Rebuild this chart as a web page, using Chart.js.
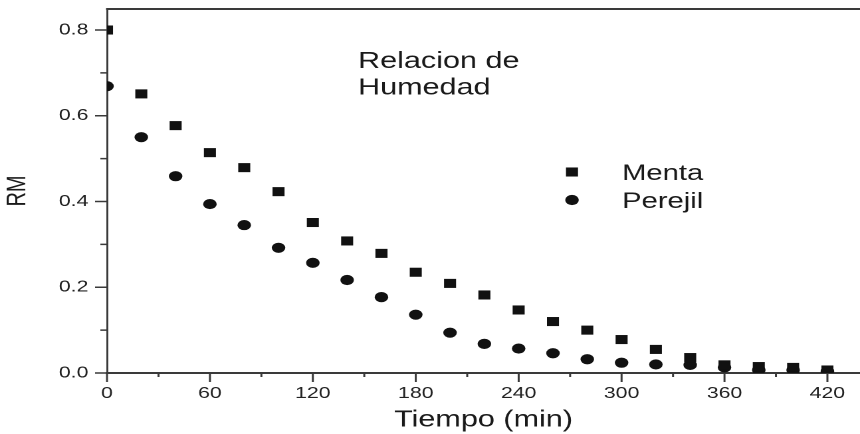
<!DOCTYPE html>
<html>
<head>
<meta charset="utf-8">
<script src="https://cdn.jsdelivr.net/npm/chart.js@4"></script>
<style>
  html, body { margin: 0; padding: 0; background: #fff; overflow: hidden; }
  /* la figura original esta estirada en horizontal */
  #wrap { width: 647px; height: 434px; transform: scaleX(1.3292); transform-origin: 0 0; }
</style>
</head>
<body>
<div id="wrap"><canvas id="grafico" width="647" height="434"></canvas></div>
<script>
// datos
const tiempo = [0, 20, 40, 60, 80, 100, 120, 140, 160, 180, 200, 220, 240, 260, 280, 300, 320, 340, 360, 380, 400, 420];
const menta = [0.80, 0.651, 0.577, 0.514, 0.479, 0.423, 0.351, 0.308, 0.279, 0.235, 0.209, 0.182, 0.147, 0.120, 0.100, 0.078, 0.055, 0.036, 0.019, 0.015, 0.013, 0.007];
const perejil = [0.669, 0.55, 0.459, 0.394, 0.345, 0.292, 0.257, 0.217, 0.177, 0.136, 0.094, 0.068, 0.057, 0.046, 0.032, 0.024, 0.020, 0.019, 0.013, 0.007, 0.007, 0.004];
const ticksX = [0, 60, 120, 180, 240, 300, 360, 420];
const ticksY = [0, 0.2, 0.4, 0.6, 0.8];
const series = ['Menta', 'Perejil'];
const anotacion = ['Relacion de', 'Humedad'];

const S = 1.3292;
const fuente = '"Liberation Sans", Arial, sans-serif';
const negro = '#111';

function puntos(arr) {
    var res = [];
    for (var i = 0; i < tiempo.length; i++) {
        res.push({ x: tiempo[i], y: arr[i] });
    }
    return res;
}

// sin relleno automatico alrededor de los ejes
function sinRelleno(scale) {
    scale.paddingTop = 0;
    scale.paddingBottom = 0;
    scale.paddingLeft = 0;
    scale.paddingRight = 0;
}

const estilos = [
    { pointStyle: 'rect', radius: 6.4 },
    { pointStyle: 'circle', radius: 5.1 }
];

const decoracion = {
    id: 'decoracion',
    afterDraw(chart) {
        const ctx = chart.ctx;
        const a = chart.chartArea;
        const sx = chart.scales.x;
        const sy = chart.scales.y;
        ctx.save();
        ctx.strokeStyle = '#3a3a3a';

        // borde superior
        ctx.lineWidth = 2;
        ctx.beginPath();
        ctx.moveTo(a.left - 0.75, a.top);
        ctx.lineTo(a.right, a.top);
        ctx.stroke();

        // marcas del eje y
        ctx.lineWidth = 1.5;
        ctx.beginPath();
        for (var i = 0; i < ticksY.length; i++) {
            var py = sy.getPixelForValue(ticksY[i]);
            ctx.moveTo(a.left - 9, py);
            ctx.lineTo(a.left, py);
            if (i < ticksY.length - 1) {
                var pm = sy.getPixelForValue((ticksY[i] + ticksY[i + 1]) / 2);
                ctx.moveTo(a.left - 5, pm);
                ctx.lineTo(a.left, pm);
            }
        }
        ctx.stroke();

        // marcas del eje x
        ctx.beginPath();
        for (var j = 0; j < ticksX.length; j++) {
            var px = sx.getPixelForValue(ticksX[j]);
            ctx.moveTo(px, a.bottom);
            ctx.lineTo(px, a.bottom + 9);
            if (j < ticksX.length - 1) {
                var qm = sx.getPixelForValue((ticksX[j] + ticksX[j + 1]) / 2);
                ctx.moveTo(qm, a.bottom);
                ctx.lineTo(qm, a.bottom + 4);
            }
        }
        ctx.stroke();

        // texto "Relacion de Humedad"
        ctx.fillStyle = '#1a1a1a';
        ctx.textBaseline = 'alphabetic';
        ctx.textAlign = 'left';
        ctx.font = '23px ' + fuente;
        ctx.fillText(anotacion[0], 358 / S, 68);
        ctx.fillText(anotacion[1], 358 / S, 94.5);

        // leyenda
        ctx.font = '22px ' + fuente;
        for (var k = 0; k < series.length; k++) {
            var ly = 172 + 28 * k;
            ctx.fillStyle = negro;
            Chart.helpers.drawPoint(ctx, {
                pointStyle: estilos[k].pointStyle,
                radius: estilos[k].radius,
                rotation: 0,
                borderWidth: 0
            }, 572 / S, ly);
            ctx.fillStyle = '#1a1a1a';
            ctx.fillText(series[k], 622 / S, ly + 8);
        }
        ctx.restore();
    }
};

const ctx = document.getElementById('grafico').getContext('2d');
const grafico = new Chart(ctx, {
    type: 'scatter',
    data: {
        datasets: [{
            label: series[0],
            data: puntos(menta),
            pointStyle: estilos[0].pointStyle,
            pointRadius: estilos[0].radius,
            backgroundColor: negro,
            borderWidth: 0
        }, {
            label: series[1],
            data: puntos(perejil),
            pointStyle: estilos[1].pointStyle,
            pointRadius: estilos[1].radius,
            backgroundColor: negro,
            borderWidth: 0
        }]
    },
    options: {
        responsive: false,
        animation: false,
        devicePixelRatio: 2,
        layout: { autoPadding: false, padding: { top: 9, right: 0, bottom: 0, left: 0 } },
        plugins: {
            legend: { display: false },
            tooltip: { enabled: false }
        },
        scales: {
            x: {
                type: 'linear',
                min: 0,
                max: 439,
                afterBuildTicks: function (scale) {
                    scale.ticks = ticksX.map(function (v) { return { value: v }; });
                },
                afterFit: function (scale) { scale.height = 61; sinRelleno(scale); },
                grid: { display: false, drawTicks: false },
                border: { display: true, color: '#3a3a3a', width: 2 },
                ticks: {
                    font: { size: 16, family: fuente },
                    color: '#222',
                    padding: 11,
                    maxRotation: 0,
                    callback: function (v) { return String(v); }
                },
                title: {
                    display: true,
                    text: 'Tiempo (min)',
                    font: { size: 23, family: fuente },
                    color: '#1a1a1a',
                    padding: { top: 0, bottom: 0 }
                }
            },
            y: {
                type: 'linear',
                min: 0,
                max: 0.849,
                afterBuildTicks: function (scale) {
                    scale.ticks = ticksY.map(function (v) { return { value: v }; });
                },
                afterFit: function (scale) { scale.width = 80.5; sinRelleno(scale); },
                grid: { display: false, drawTicks: false },
                border: { display: true, color: '#3a3a3a', width: 1.5 },
                ticks: {
                    font: { size: 16, family: fuente },
                    color: '#222',
                    padding: 14,
                    callback: function (v) { return v.toFixed(1); }
                },
                title: {
                    display: true,
                    text: 'RM',
                    font: { size: 20, family: fuente },
                    color: '#1a1a1a',
                    padding: { top: 1.5, bottom: 0 }
                }
            }
        }
    },
    plugins: [decoracion]
});
</script>
</body>
</html>
